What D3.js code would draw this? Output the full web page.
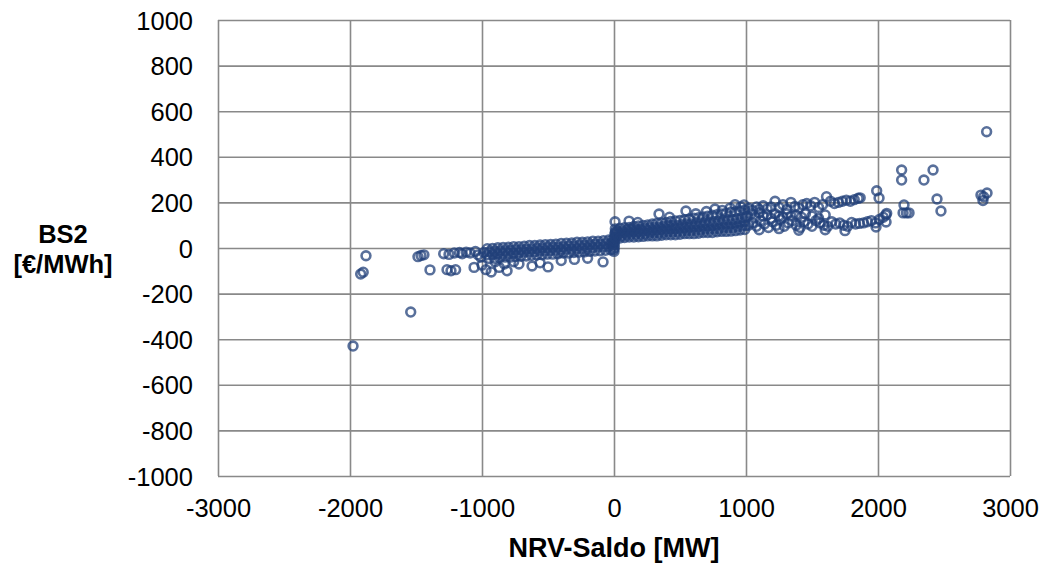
<!DOCTYPE html>
<html>
<head>
<meta charset="utf-8">
<script src="https://cdn.jsdelivr.net/npm/d3@7"></script>
<style>
  body { margin: 0; background: #fff; }
  text { font-family: "Liberation Sans", Arial, sans-serif; fill: #000; }
</style>
</head>
<body>
<div id="chart"></div>
<script>
// axis ticks
const xTicks = [-3000, -2000, -1000, 0, 1000, 2000, 3000];
const yTicks = [-1000, -800, -600, -400, -200, 0, 200, 400, 600, 800, 1000];

// [NRV-Saldo MW, BS2 EUR/MWh]
const negOutliers = [
  [-1977, -430], [-1540, -281], [-1879, -34], [-1919, -114], [-1900, -106],
  [-1485, -38], [-1462, -33], [-1440, -30], [-1394, -96]
];
const negScatter = [
  [-1290, -25], [-1265, -95], [-1250, -28], [-1235, -100], [-1210, -22], [-1200, -95],
  [-1170, -20], [-1150, -25], [-1120, -18], [-1090, -22], [-1060, -85], [-1050, -15],
  [-1030, -30], [-1000, -75], [-1010, -40], [-985, -20], [-970, -95], [-930, -105],
  [-900, -60], [-870, -85], [-830, -70], [-810, -100], [-760, -60], [-720, -70],
  [-621, -79], [-560, -65], [-500, -83], [-400, -55], [-300, -50], [-200, -45], [-83, -61]
];

// dense band below zero: x positions and the price rows read along it
const negX1 = [-960, -920, -880, -840, -800, -760, -720, -680, -640, -600, -560, -520, -480,
  -440, -400, -360, -320, -280, -240, -200, -160, -120, -80, -40, -8];
const negX2 = [-945, -905, -865, -825, -785, -745, -705, -665, -625, -585, -545, -505, -465,
  -425, -385, -345, -305, -265, -225, -185, -145, -105, -65, -25, -4];
const negRowA = [-3, -2, 1, 2, 3, 6, 6, 8, 11, 11, 13, 15, 16, 17, 20, 21, 22, 25, 25, 27, 30, 30, 32, 35, 37];
const negRowB = [-16, -14, -13, -12, -10, -7, -7, -5, -4, -2, 0, 2, 3, 4, 6, 9, 9, 11, 12, 14, 17, 17, 19, 20, 23];
const negRowC = [-30, -29, -26, -25, -24, -23, -21, -18, -17, -16, -13, -13, -11, -10, -8, -5, -5, -3, -2, 0, 2, 4, 5, 7, 9];
const negRowD = [-46, -45, -43, -40, -40, -37, -36, -35, -32, -31, -30, -27, -27, -25, -22, -22, -20, -18, -17, -15, -13, -12, -10, -8, -7];

const zeroJump = [[0, -15], [2, 0], [3, 15], [5, 30], [6, 45], [8, 60], [10, 70]];

// dense band above zero
const posX1 = [10, 45, 80, 115, 150, 185, 220, 255, 290, 325, 360, 395, 430, 465, 500, 535, 570,
  605, 640, 675, 710, 745, 780, 815, 850, 885, 920, 955, 990];
const posX2 = [25, 60, 95, 130, 165, 200, 235, 270, 305, 340, 375, 410, 445, 480, 515, 550, 585,
  620, 655, 690, 725, 760, 795, 830, 865, 900, 935, 970, 998];
const posRow1 = [84, 87, 89, 90, 94, 97, 99, 101, 105, 108, 110, 112, 116, 119, 121, 124, 127, 131,
  133, 136, 140, 144, 146, 149, 153, 157, 159, 162, 166];
const posRow2 = [74, 75, 78, 81, 82, 83, 86, 89, 90, 91, 94, 97, 98, 99, 102, 105, 106, 107, 110,
  113, 114, 116, 119, 122, 124, 125, 129, 133, 136];
const posRow3 = [64, 65, 67, 70, 71, 71, 74, 77, 77, 78, 81, 83, 84, 85, 87, 90, 91, 92, 94, 97,
  98, 99, 102, 105, 106, 107, 110, 114, 116];
const posRow4 = [55, 55, 58, 60, 60, 61, 63, 66, 66, 66, 69, 71, 71, 72, 74, 77, 77, 78, 80, 83,
  83, 84, 86, 89, 90, 90, 93, 96, 98];
const posRow5 = [44, 44, 46, 48, 48, 49, 51, 53, 53, 53, 56, 58, 58, 58, 60, 63, 63, 63, 65, 68,
  68, 68, 71, 73, 73, 74, 76, 79, 81];
const posScatter = [
  [8, 115], [114, 118], [180, 112], [341, 149], [420, 135], [545, 162], [620, 150],
  [700, 160], [765, 171], [820, 165], [880, 175], [917, 190], [985, 189], [960, 180]
];
const posUpper = [
  [1020, 175], [1050, 165], [1080, 180], [1100, 170], [1130, 185], [1160, 172], [1190, 180],
  [1220, 205], [1250, 178], [1280, 190], [1310, 170], [1340, 200], [1370, 182], [1400, 175],
  [1430, 190], [1460, 195], [1490, 185], [1520, 200], [1550, 178], [1580, 190], [1610, 225],
  [1640, 205], [1670, 195], [1700, 200], [1730, 205], [1760, 210], [1790, 205], [1820, 212],
  [1850, 218], [1865, 220],
  [1010, 140], [1040, 150], [1070, 135], [1100, 155], [1130, 140], [1160, 145], [1190, 130],
  [1220, 150], [1250, 140], [1280, 135], [1310, 150], [1340, 140], [1380, 145], [1420, 135],
  [1450, 150], [1500, 140], [1550, 130], [1600, 145]
];
const posLower = [
  [1020, 100], [1050, 110], [1080, 95], [1110, 120], [1140, 105], [1170, 90], [1200, 115],
  [1230, 100], [1260, 125], [1290, 95], [1320, 110], [1350, 120], [1380, 100], [1410, 90],
  [1440, 115], [1470, 105], [1500, 95], [1530, 120], [1560, 110], [1590, 100], [1620, 95],
  [1650, 115], [1680, 105], [1710, 110], [1740, 100], [1770, 95], [1800, 112], [1830, 105],
  [1860, 108], [1890, 110], [1920, 115], [1950, 120], [1980, 110], [2010, 125], [2040, 135],
  [2060, 145], [1100, 80], [1250, 85], [1400, 78], [1600, 80], [1750, 76]
];
const posOutliers = [
  [1990, 251], [2008, 219], [2066, 152], [2061, 114], [1985, 92], [2179, 342], [2179, 298],
  [2197, 189], [2190, 154], [2215, 154], [2235, 154], [2348, 298], [2417, 342], [2447, 215],
  [2477, 162], [2780, 232], [2826, 241], [2795, 208], [2823, 510], [2800, 225]
];

const pairUp = (xs, ys) => xs.map((v, i) => [v, ys[i]]);

const points = [].concat(
  negOutliers, negScatter,
  pairUp(negX1, negRowA), pairUp(negX2, negRowB), pairUp(negX1, negRowC), pairUp(negX2, negRowD),
  zeroJump,
  pairUp(posX1, posRow1), pairUp(posX2, posRow2), pairUp(posX1, posRow3),
  pairUp(posX2, posRow4), pairUp(posX1, posRow5),
  posScatter, posUpper, posLower, posOutliers
);

const W = 1041, H = 563;
const plotLeft = 218, plotRight = 1010, plotTop = 20, plotBottom = 476;

const svg = d3.select("#chart").append("svg")
  .attr("width", W)
  .attr("height", H);

const x = d3.scaleLinear().domain([-3000, 3000]).range([plotLeft, plotRight]);
const y = d3.scaleLinear().domain([-1000, 1000]).range([plotBottom, plotTop]);

const xAxis = svg.append("g")
  .attr("transform", `translate(0,${plotBottom})`)
  .call(d3.axisBottom(x).tickValues(xTicks).tickSize(-(plotBottom - plotTop)).tickFormat(d => String(d)));
xAxis.select(".domain").remove();
xAxis.selectAll("line").attr("stroke", "#898989").attr("stroke-width", 1.6);
xAxis.selectAll("text")
  .attr("y", 41).attr("dy", null)
  .attr("font-size", "25.5px");

const yAxis = svg.append("g")
  .attr("transform", `translate(${plotLeft},0)`)
  .call(d3.axisLeft(y).tickValues(yTicks).tickSize(-(plotRight - plotLeft)).tickPadding(25).tickFormat(d => String(d)));
yAxis.select(".domain").remove();
yAxis.selectAll("line").attr("stroke", "#898989").attr("stroke-width", 1.6);
yAxis.selectAll("text")
  .attr("dy", null).attr("y", 9)
  .attr("font-size", "25.5px");

svg.selectAll("g").attr("font-family", null);

svg.append("g")
  .selectAll("circle")
  .data(points)
  .enter()
  .append("circle")
  .attr("cx", d => x(d[0]))
  .attr("cy", d => y(d[1]))
  .attr("r", 4.4)
  .attr("fill", "none")
  .attr("stroke", "#22407a")
  .attr("stroke-opacity", 0.75)
  .attr("stroke-width", 2.6);

svg.append("text")
  .attr("x", (plotLeft + plotRight) / 2)
  .attr("y", 557)
  .attr("text-anchor", "middle")
  .attr("font-size", "27px")
  .attr("font-weight", "bold")
  .text("NRV-Saldo [MW]");

const yTitle = svg.append("text")
  .attr("text-anchor", "middle")
  .attr("font-size", "25.5px")
  .attr("font-weight", "bold");
yTitle.append("tspan").attr("x", 63).attr("y", 243).text("BS2");
yTitle.append("tspan").attr("x", 63).attr("y", 273).text("[€/MWh]");
</script>
</body>
</html>
